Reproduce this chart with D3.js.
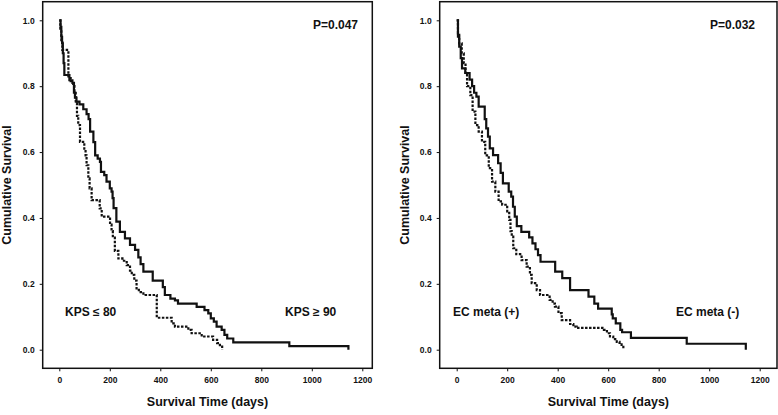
<!DOCTYPE html>
<html><head><meta charset="utf-8">
<script src="https://cdn.jsdelivr.net/npm/d3@7/dist/d3.min.js"></script>
<style>
body{margin:0;background:#fff;}
svg text{font-family:"Liberation Sans",Arial,sans-serif;font-weight:bold;fill:#111;}
</style></head>
<body><svg id="c" width="778" height="415"></svg>
<script>
// ---- data (time in days, cumulative survival after each step) ----
const kpsHigh = [[0,1],[5,0.98],[8,0.95],[11,0.93],[14,0.90],[17,0.87],[20,0.834],[40,0.818],[52,0.81],[58,0.78],[62,0.765],[68,0.753],[80,0.745],[95,0.73],[108,0.715],[116,0.70],[122,0.662],[135,0.63],[142,0.59],[152,0.58],[161,0.57],[165,0.54],[178,0.53],[187,0.51],[200,0.49],[207,0.48],[211,0.46],[215,0.43],[226,0.389],[240,0.358],[260,0.338],[280,0.318],[300,0.303],[313,0.28],[322,0.26],[333,0.237],[370,0.21],[410,0.19],[418,0.166],[440,0.155],[458,0.15],[470,0.14],[544,0.13],[575,0.12],[590,0.11],[600,0.095],[612,0.085],[623,0.07],[643,0.06],[654,0.045],[665,0.034],[689,0.022],[911,0.011],[1145,0.0]];
const kpsLow = [[0,1],[4,0.97],[8,0.94],[12,0.91],[36,0.83],[45,0.815],[55,0.80],[60,0.78],[65,0.748],[70,0.71],[75,0.682],[82,0.631],[99,0.61],[104,0.59],[108,0.56],[115,0.52],[120,0.49],[128,0.454],[160,0.429],[168,0.404],[201,0.38],[207,0.36],[212,0.34],[220,0.30],[234,0.277],[250,0.27],[267,0.257],[280,0.24],[287,0.227],[297,0.21],[306,0.186],[315,0.175],[333,0.166],[386,0.097],[445,0.08],[458,0.07],[511,0.06],[524,0.05],[564,0.04],[609,0.03],[625,0.02],[636,0.014],[645,0.0]];
const ecNeg = [[0,1],[5,0.95],[10,0.92],[16,0.885],[21,0.854],[34,0.84],[51,0.82],[61,0.80],[69,0.78],[78,0.768],[87,0.738],[111,0.70],[117,0.672],[124,0.647],[131,0.611],[144,0.591],[164,0.566],[174,0.537],[183,0.505],[206,0.48],[216,0.465],[223,0.434],[230,0.404],[238,0.375],[256,0.358],[287,0.341],[300,0.323],[312,0.305],[322,0.287],[332,0.267],[390,0.237],[418,0.217],[449,0.181],[522,0.161],[545,0.14],[560,0.125],[614,0.107],[618,0.095],[630,0.08],[648,0.06],[655,0.053],[690,0.036],[911,0.018],[1145,0.0]];
const ecPos = [[0,1],[5,0.96],[10,0.93],[20,0.90],[28,0.87],[35,0.84],[41,0.80],[54,0.773],[63,0.723],[74,0.682],[87,0.662],[100,0.631],[113,0.59],[127,0.551],[140,0.51],[153,0.48],[166,0.45],[180,0.44],[200,0.42],[208,0.394],[213,0.36],[218,0.343],[224,0.308],[236,0.29],[257,0.272],[277,0.252],[290,0.227],[297,0.202],[317,0.181],[330,0.166],[368,0.151],[380,0.14],[389,0.131],[403,0.111],[416,0.09],[449,0.078],[462,0.07],[475,0.066],[583,0.06],[595,0.05],[607,0.04],[620,0.032],[634,0.024],[645,0.016],[653,0.009],[660,0.0]];
const xTicks = [0,200,400,600,800,1000,1200];
const yTicks = [0.0,0.2,0.4,0.6,0.8,1.0];
const pValues = ["P=0.047","P=0.032"];
const groupLabelsLeft = ["KPS \u2264 80","KPS \u2265 90"];
const groupLabelsRight = ["EC meta (+)","EC meta (-)"];
const xTitle = "Survival Time (days)";
const yTitle = "Cumulative Survival";

const svg = d3.select("#c");

function panel(cfg){
  const g = svg.append("g");
  const x = d3.scaleLinear().domain([0,1200]).range([cfg.x0, cfg.x0+303]);
  const y = d3.scaleLinear().domain([0,1]).range([349.7,20.3]);
  // frame
  g.append("rect").attr("x",cfg.bx0).attr("y",1.7).attr("width",cfg.bx1-cfg.bx0).attr("height",366.6)
    .attr("fill","none").attr("stroke","#111").attr("stroke-width",1.5);
  // axes
  const ya = g.append("g").attr("transform",`translate(${cfg.bx0},0)`)
    .call(d3.axisLeft(y).tickValues(yTicks).tickFormat(d3.format(".1f")).tickSize(3).tickPadding(5));
  const xa = g.append("g").attr("transform",`translate(0,368.3)`)
    .call(d3.axisBottom(x).tickValues(xTicks).tickFormat(d3.format("d")).tickSize(3).tickPadding(6));
  [ya,xa].forEach(a=>{
    a.select(".domain").remove();
    a.selectAll(".tick line").attr("stroke","#111").attr("stroke-width",1);
    a.selectAll(".tick text").style("font-size","8.5px").attr("fill","#111");
  });
  // curves
  const line = d3.line().x(d=>x(d[0])).y(d=>y(d[1])).curve(d3.curveStepAfter);
  g.append("path").datum(cfg.solid).attr("d",line).attr("fill","none")
    .attr("stroke","#111").attr("stroke-width",2.2);
  g.append("path").datum(cfg.dashed).attr("d",line).attr("fill","none")
    .attr("stroke","#111").attr("stroke-width",2.2).attr("stroke-dasharray","2.5,1.5");
  // texts
  g.append("text").attr("x",cfg.px).attr("y",29.3).style("font-size","12px").text(cfg.p);
  g.append("text").attr("x",cfg.l1x).attr("y",316).style("font-size","12px").text(cfg.labels[0]);
  g.append("text").attr("x",cfg.l2x).attr("y",316).style("font-size","12px").text(cfg.labels[1]);
  g.append("text").attr("x",(cfg.bx0+cfg.bx1)/2).attr("y",406).attr("text-anchor","middle")
    .style("font-size","12.5px").text(xTitle);
  g.append("text").attr("transform",`translate(${cfg.ytx},185) rotate(-90)`).attr("text-anchor","middle")
    .style("font-size","12.5px").text(yTitle);
}

panel({x0:59.3,bx0:42.7,bx1:372.3,solid:kpsHigh,dashed:kpsLow,p:pValues[0],px:313,
  labels:groupLabelsLeft,l1x:65,l2x:285,ytx:11});
panel({x0:456.7,bx0:439.7,bx1:777,solid:ecNeg,dashed:ecPos,p:pValues[1],px:710,
  labels:groupLabelsRight,l1x:453,l2x:676,ytx:409});
</script></body></html>
